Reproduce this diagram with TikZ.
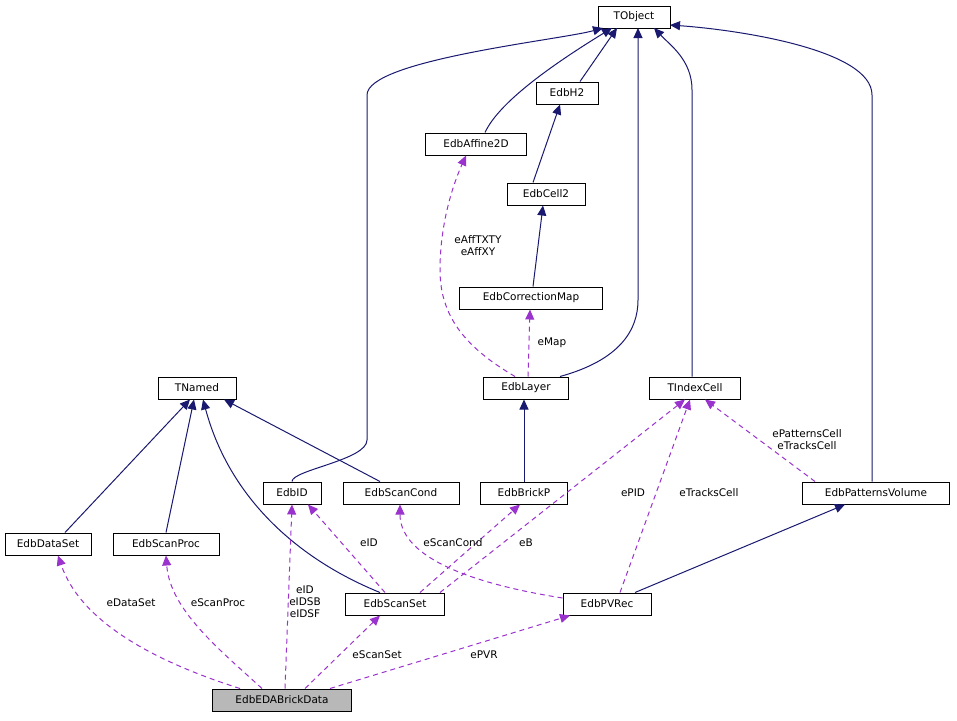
\documentclass[tikz,border=0pt]{standalone}
\usepackage{fontspec}
\setmainfont{DejaVu Sans}
\usetikzlibrary{arrows.meta}
\definecolor{nv}{HTML}{191970}
\definecolor{pp}{HTML}{9A32CD}
\begin{document}
\begin{tikzpicture}[x=1pt,y=-1pt,
 box/.style={draw,line width=1pt,fill=white,inner sep=0pt,minimum height=22pt,font=\fontsize{10.5}{12}\selectfont},
 inh/.style={draw=nv,line width=1pt,-{Triangle[length=10pt,width=9pt,fill=nv]}},
 mem/.style={draw=pp,line width=1pt,dash pattern=on 5pt off 4pt,-{Triangle[length=10pt,width=9pt,fill=pp]}},
 lb/.style={font=\fontsize{10.5}{12}\selectfont,align=center,inner sep=1pt}]
\useasboundingbox (0,0) rectangle (957,720);
\node[box,minimum width=72pt] (TO) at (634,17) {TObject};
\node[box,minimum width=62pt] (H2) at (567,93) {EdbH2};
\node[box,minimum width=101pt] (AF) at (476,144) {EdbAffine2D};
\node[box,minimum width=78pt] (C2) at (546,194) {EdbCell2};
\node[box,minimum width=143pt] (CM) at (531,298) {EdbCorrectionMap};
\node[box,minimum width=78pt] (TN) at (197,388) {TNamed};
\node[box,minimum width=85pt] (LA) at (526,388) {EdbLayer};
\node[box,minimum width=91pt] (TI) at (695,388) {TIndexCell};
\node[box,minimum width=58pt] (ID) at (292,493) {EdbID};
\node[box,minimum width=116pt] (SC) at (401,493) {EdbScanCond};
\node[box,minimum width=87pt] (BP) at (524,493) {EdbBrickP};
\node[box,minimum width=147pt] (PV) at (876,493) {EdbPatternsVolume};
\node[box,minimum width=86pt] (DS) at (48,544) {EdbDataSet};
\node[box,minimum width=106pt] (SP) at (166,544) {EdbScanProc};
\node[box,minimum width=99pt] (SS) at (395,604) {EdbScanSet};
\node[box,minimum width=88pt] (PR) at (607,604) {EdbPVRec};
\node[box,minimum width=139pt,fill=black!28] (EB) at (282,700) {EdbEDABrickData};
% inheritance
\draw[inh] (ID.north) .. controls (292,470) and (367,460) .. (367,440) -- (367,95) .. controls (367,60) and (560,40) .. (603,28);
\draw[inh] (AF.north -| 485,0) .. controls (500,100) and (560,60) .. (612,28);
\draw[inh] (H2.north -| 580,0) -- (617,28);
\draw[inh] (LA.north -| 560,0) .. controls (620,360) and (638,330) .. (638,300) -- (638,28);
\draw[inh] (TI.north -| 692,0) -- (692,90) .. controls (692,60) and (670,45) .. (654,28);
\draw[inh] (PV.north -| 872,0) -- (872,95) .. controls (872,50) and (740,30) .. (670,25);
\draw[inh] (C2.north -| 533,0) -- (H2.south -| 560,0);
\draw[inh] (CM.north -| 533,0) -- (C2.south -| 543,0);
\draw[inh] (BP.north) -- (BP.north |- LA.south);
\draw[inh] (DS.north -| 65,0) -- (TN.south -| 190,0);
\draw[inh] (SP.north) -- (TN.south -| 194,0);
\draw[inh] (SS.north -| 380,0) .. controls (300,560) and (230,500) .. (TN.south -| 203,0);
\draw[inh] (SC.north -| 380,0) -- (TN.south -| 224,0);
\draw[inh] (PR.north -| 635,0) -- (PV.south -| 845,0);
% members
\draw[mem] (LA.north -| 515,0) .. controls (470,350) and (440,320) .. (440,270) .. controls (440,220) and (455,180) .. (AF.south -| 466,0);
\node[lb] at (478,246) {eAffTXTY\\eAffXY};
\draw[mem] (LA.north -| 528,0) -- (CM.south -| 530,0);
\node[lb] at (552,343) {eMap};
\draw[mem] (SS.north -| 440,0) -- (TI.south -| 685,0);
\node[lb] at (633,493) {ePID};
\draw[mem] (PR.north -| 620,0) -- (TI.south -| 690,0);
\node[lb] at (709,493) {eTracksCell};
\draw[mem] (PV.north -| 815,0) -- (TI.south -| 705,0);
\node[lb] at (807,440) {ePatternsCell\\eTracksCell};
\draw[mem] (SS.north -| 385,0) -- (ID.south -| 308,0);
\node[lb] at (369,543) {eID};
\draw[mem] (SS.north -| 420,0) -- (BP.south -| 520,0);
\node[lb] at (526,543) {eB};
\draw[mem] (PR.west |- 0,598) .. controls (480,585) and (400,560) .. (SC.south -| 400,0);
\node[lb] at (453,543) {eScanCond};
\draw[mem] (EB.north -| 240,0) .. controls (150,660) and (80,620) .. (DS.south -| 58,0);
\node[lb] at (131,603) {eDataSet};
\draw[mem] (EB.north -| 262,0) .. controls (220,650) and (170,610) .. (SP.south);
\node[lb] at (218,603) {eScanProc};
\draw[mem] (EB.north -| 285,0) -- (ID.south -| 292,0);
\node[lb] at (305,602) {eID\\eIDSB\\eIDSF};
\draw[mem] (EB.north -| 305,0) -- (SS.south -| 380,0);
\node[lb] at (377,655) {eScanSet};
\draw[mem] (EB.north -| 330,0) -- (PR.south -| 570,0);
\node[lb] at (484,655) {ePVR};
\end{tikzpicture}
\end{document}
